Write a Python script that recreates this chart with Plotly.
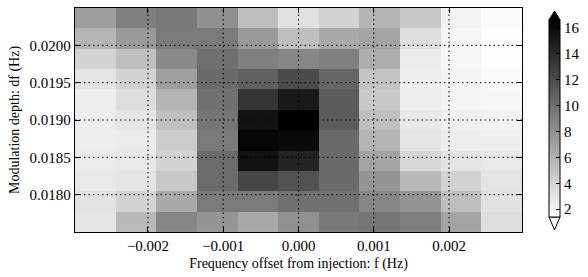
import plotly.graph_objects as go

# Cell centres
freq_offset = [-0.0027, -0.00216, -0.00162, -0.00108, -0.00054, 0.0,
               0.00054, 0.00108, 0.00162, 0.00216, 0.0027]
mod_depth = [0.017636, 0.017909, 0.018182, 0.018455, 0.018727, 0.019,
             0.019273, 0.019545, 0.019818, 0.020091, 0.020364]

# Rows in ascending modulation depth (bottom row first)
signal = [
    [3.0, 5.6, 8.6, 7.7, 6.5, 8.0, 9.4, 9.6, 9.1, 6.8, 3.4],
    [3.1, 4.0, 6.5, 9.3, 9.3, 9.9, 9.9, 8.6, 7.7, 5.3, 3.2],
    [2.8, 3.0, 4.7, 10.2, 12.4, 11.7, 10.3, 7.7, 5.6, 4.1, 3.0],
    [2.6, 2.8, 4.1, 10.2, 15.5, 14.5, 10.3, 6.8, 3.8, 3.0, 2.8],
    [2.4, 2.6, 4.4, 9.3, 16.3, 16.0, 10.3, 5.9, 3.0, 2.5, 2.4],
    [2.5, 2.9, 5.2, 9.6, 15.5, 16.6, 11.1, 5.3, 2.8, 2.3, 2.2],
    [2.4, 3.4, 5.9, 9.9, 13.5, 15.1, 11.1, 4.7, 2.4, 2.0, 1.9],
    [3.0, 4.0, 7.1, 10.3, 10.9, 12.1, 10.6, 5.0, 2.4, 2.0, 1.7],
    [4.0, 5.2, 8.4, 10.0, 9.0, 8.6, 9.0, 6.2, 2.6, 1.9, 1.5],
    [5.8, 7.4, 9.3, 9.3, 7.4, 5.2, 6.5, 6.8, 3.4, 1.9, 1.5],
    [7.2, 9.0, 9.4, 8.1, 5.3, 3.2, 4.0, 5.9, 4.7, 2.2, 1.7],
]

x_ticks = [-0.002, -0.001, 0.0, 0.001, 0.002]
y_ticks = [0.0180, 0.0185, 0.0190, 0.0195, 0.0200]
cbar_ticks = [2, 4, 6, 8, 10, 12, 14, 16]
zmin, zmax = 1.4, 16.6

FONT = "Liberation Serif"
TICK_SIZE = 15
TITLE_SIZE = 14
W, H = 588, 277
L, R, T, B = 75, 66, 8, 45
pw, ph = W - L - R, H - T - B

def px(xp):
    return (xp - L) / pw

def py(yp):
    return (H - B - yp) / ph

fig = go.Figure()
fig.add_trace(go.Heatmap(
    x=freq_offset, y=mod_depth, z=signal,
    zmin=zmin, zmax=zmax,
    colorscale=[[0, "#ffffff"], [1, "#000000"]],
    colorbar=dict(
        x=px(549), xanchor="left", xpad=0,
        y=py(118.5), yanchor="middle", ypad=0,
        len=197 / ph, lenmode="fraction",
        thickness=11, thicknessmode="pixels",
        outlinewidth=1, outlinecolor="black",
        tickvals=cbar_ticks, ticks="inside", ticklen=4,
        tickcolor="black", tickwidth=1,
        tickfont=dict(family=FONT, size=TICK_SIZE, color="black"),
    ),
))

DOT = "1.5px,3px"
shapes = []
for xv in x_ticks:
    shapes.append(dict(type="line", xref="x", yref="paper", x0=xv, x1=xv,
                       y0=0, y1=1, layer="above",
                       line=dict(color="black", width=1, dash=DOT)))
for yv in y_ticks:
    shapes.append(dict(type="line", xref="paper", yref="y", x0=0, x1=1,
                       y0=yv, y1=yv, layer="above",
                       line=dict(color="black", width=1, dash=DOT)))
# colorbar extension triangles
shapes.append(dict(type="path", xref="paper", yref="paper", layer="above",
                   path=f"M {px(549)},{py(20)} L {px(560)},{py(20)} L {px(554.5)},{py(11)} Z",
                   fillcolor="black", line=dict(color="black", width=1)))
shapes.append(dict(type="path", xref="paper", yref="paper", layer="above",
                   path=f"M {px(549)},{py(217)} L {px(560)},{py(217)} L {px(554.5)},{py(230)} Z",
                   fillcolor="white", line=dict(color="black", width=1)))

axis_common = dict(
    showline=True, linecolor="black", linewidth=1.3, mirror="ticks",
    ticks="inside", ticklen=5, tickcolor="black", tickwidth=1,
    showgrid=False, zeroline=False, automargin=False,
    tickfont=dict(family=FONT, size=TICK_SIZE, color="black"),
    layer="above traces",
)

fig.update_layout(
    width=W, height=H,
    margin=dict(l=L, r=R, t=T, b=B, autoexpand=False),
    paper_bgcolor="white", plot_bgcolor="white",
    font=dict(family=FONT, size=TITLE_SIZE, color="black"),
    shapes=shapes,
    xaxis=dict(axis_common, tickvals=x_ticks, tickformat=".3f",
               range=[-0.00297, 0.00297],
               title=dict(text="Frequency offset from injection: f (Hz)",
                          font=dict(family=FONT, size=TITLE_SIZE), standoff=5)),
    yaxis=dict(axis_common, tickvals=y_ticks, tickformat=".4f",
               range=[0.0175, 0.0205],
               title=dict(text="Modulation depth: df (Hz)",
                          font=dict(family=FONT, size=TITLE_SIZE), standoff=6)),
)

fig.write_html("out.html",
               config={"displayModeBar": False},
               post_script="document.body.style.margin='0';document.body.style.overflow='hidden';")
